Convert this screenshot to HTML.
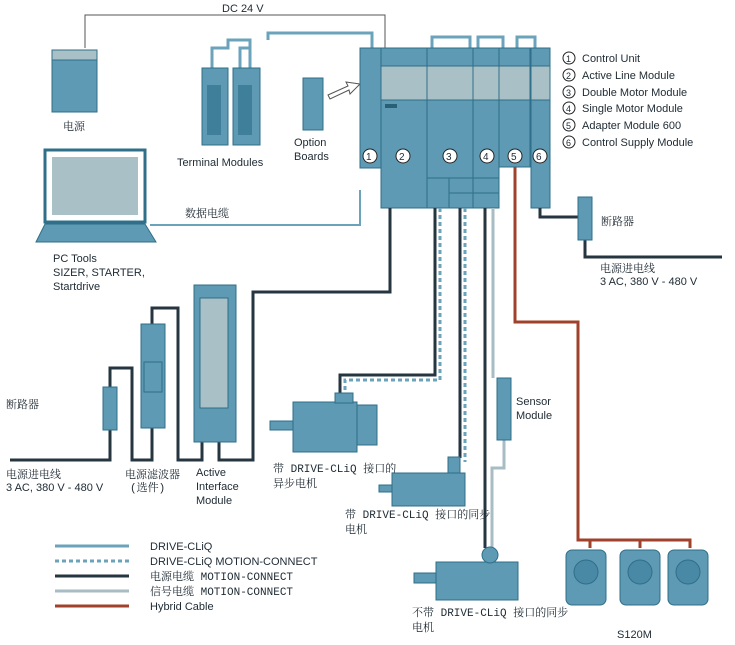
<!DOCTYPE html>
<html><head><meta charset="utf-8"><style>
body{margin:0;background:#fff;width:735px;height:645px;overflow:hidden}
svg{display:block}
text{font-family:"Liberation Sans","Noto Sans CJK SC",sans-serif;font-size:11px;fill:#1e2a33}
.cn{font-family:"Liberation Mono","Noto Serif CJK SC",serif;font-size:11px}
.m{fill:#5e9ab3;stroke:#2f6f8a;stroke-width:1}
.g{fill:#a9c0c7;stroke:#2f6f8a;stroke-width:1}
.k{fill:none;stroke:#263640;stroke-width:3}
.b{fill:none;stroke:#6ba3bb;stroke-width:3}
.d{fill:none;stroke:#6ba3bb;stroke-width:3;stroke-dasharray:4 3}
.l{fill:none;stroke:#a8bcc4;stroke-width:3}
.r{fill:none;stroke:#a0412b;stroke-width:3}
.t{fill:none;stroke:#555;stroke-width:1}
.c{fill:#fff;stroke:#222;stroke-width:1}
</style></head><body>
<svg width="735" height="645" viewBox="0 0 735 645">
<polyline class="t" points="85,48 85,15 385,15 385,48"/>
<text x="222" y="12">DC 24 V</text>
<polyline class="b" points="212,68 212,48 228,48 228,40 250,40 250,68"/>
<polyline class="b" points="240,68 240,48 250,48"/>
<polyline class="b" points="268,40 268,33 372,33 372,48"/>
<polyline class="b" points="432,48 432,37 470,37 470,48"/>
<polyline class="b" points="478,48 478,37 503,37 503,48"/>
<polyline class="b" points="517,48 517,37 535,37 535,48"/>
<rect class="m" x="52" y="50" width="45" height="62"/>
<rect class="g" x="52" y="50" width="45" height="10"/>
<text x="63" y="130" class="cn">电源</text>
<rect class="m" x="202" y="68" width="26" height="77"/>
<rect class="m" x="233" y="68" width="27" height="77"/>
<rect x="207" y="85" width="14" height="50" fill="#3f7f99"/>
<rect x="238" y="85" width="14" height="50" fill="#3f7f99"/>
<text x="177" y="166">Terminal Modules</text>
<rect class="m" x="303" y="78" width="20" height="52"/>
<text x="294" y="146">Option</text><text x="294" y="160">Boards</text>
<polygon points="328,95 348,86 346,82 360,84 350,94 349,90 330,99" fill="#fff" stroke="#555"/>
<rect x="45" y="150" width="100" height="72" fill="#fff" stroke="#2f6f8a" stroke-width="3"/>
<rect x="52" y="157" width="86" height="58" fill="#a9c0c7"/>
<polygon points="45,224 145,224 156,242 36,242" class="m"/>
<text x="53" y="262">PC Tools</text><text x="53" y="276">SIZER, STARTER,</text><text x="53" y="290">Startdrive</text>
<polyline class="b" points="150,225 360,225 360,190" style="stroke-width:2"/>
<text x="185" y="217" class="cn">数据电缆</text>
<rect class="m" x="360" y="48" width="21" height="120"/>
<rect class="m" x="381" y="48" width="46" height="160"/>
<rect class="m" x="427" y="48" width="46" height="160"/>
<rect class="m" x="473" y="48" width="26" height="160"/>
<rect class="m" x="499" y="48" width="31" height="119"/>
<rect class="m" x="531" y="48" width="19" height="160"/>
<rect class="g" x="381" y="66" width="46" height="34"/>
<rect class="g" x="427" y="66" width="46" height="34"/>
<rect class="g" x="473" y="66" width="26" height="34"/>
<rect class="g" x="499" y="66" width="31" height="34"/>
<rect class="g" x="531" y="66" width="19" height="34"/>
<rect class="m" x="427" y="178" width="22" height="30"/>
<rect class="m" x="449" y="178" width="24" height="15"/>
<rect class="m" x="449" y="193" width="24" height="15"/>
<rect class="m" x="473" y="178" width="26" height="15"/>
<rect class="m" x="473" y="193" width="26" height="15"/>
<rect x="385" y="104" width="12" height="4" fill="#2a5f76"/>
<circle class="c" cx="370" cy="156" r="7"/><text x="366" y="160" style="font-size:10px">1</text>
<circle class="c" cx="403" cy="156" r="7"/><text x="399" y="160" style="font-size:10px">2</text>
<circle class="c" cx="450" cy="156" r="7"/><text x="446" y="160" style="font-size:10px">3</text>
<circle class="c" cx="487" cy="156" r="7"/><text x="483" y="160" style="font-size:10px">4</text>
<circle class="c" cx="515" cy="156" r="7"/><text x="511" y="160" style="font-size:10px">5</text>
<circle class="c" cx="540" cy="156" r="7"/><text x="536" y="160" style="font-size:10px">6</text>
<circle class="c" cx="569" cy="58" r="6"/><text x="566" y="62" style="font-size:9px">1</text><text x="582" y="62">Control Unit</text>
<circle class="c" cx="569" cy="75" r="6"/><text x="566" y="79" style="font-size:9px">2</text><text x="582" y="79">Active Line Module</text>
<circle class="c" cx="569" cy="92" r="6"/><text x="566" y="96" style="font-size:9px">3</text><text x="582" y="96">Double Motor Module</text>
<circle class="c" cx="569" cy="108" r="6"/><text x="566" y="112" style="font-size:9px">4</text><text x="582" y="112">Single Motor Module</text>
<circle class="c" cx="569" cy="125" r="6"/><text x="566" y="129" style="font-size:9px">5</text><text x="582" y="129">Adapter Module 600</text>
<circle class="c" cx="569" cy="142" r="6"/><text x="566" y="146" style="font-size:9px">6</text><text x="582" y="146">Control Supply Module</text>
<polyline class="k" points="540,208 540,217 580,217"/>
<polyline class="k" points="585,240 585,257 722,257"/>
<rect class="m" x="578" y="197" width="14" height="43"/>
<text x="601" y="225" class="cn">断路器</text>
<text x="600" y="272" class="cn">电源进电线</text><text x="600" y="285">3 AC, 380 V - 480 V</text>
<!-- left power chain -->
<polyline class="k" points="390,208 390,292 253,292 253,460 219,460 219,442"/>
<polyline class="k" points="10,460 110,460 110,368 132,368 132,460 152,460 152,428"/>
<polyline class="k" points="152,324 152,308 178,308 178,460 202,460 202,442"/>
<rect class="m" x="103" y="387" width="14" height="43"/>
<rect class="m" x="141" y="324" width="24" height="104"/>
<rect x="144" y="362" width="18" height="30" fill="none" stroke="#2f6f8a"/>
<rect class="m" x="194" y="285" width="42" height="157"/>
<rect class="g" x="200" y="298" width="28" height="110"/>
<text x="6" y="408" class="cn">断路器</text>
<text x="6" y="478" class="cn">电源进电线</text><text x="6" y="491">3 AC, 380 V - 480 V</text>
<text x="125" y="478" class="cn">电源滤波器</text><text x="130" y="491" class="cn">(选件)</text>
<text x="196" y="476">Active</text><text x="196" y="490">Interface</text><text x="196" y="504">Module</text>
<polyline class="k" points="435,208 435,375 340,375 340,393"/>
<polyline class="d" points="440,208 440,380 345,380 345,393"/>
<polyline class="k" points="460,208 460,458"/>
<polyline class="d" points="465,208 465,462"/>
<polyline class="k" points="485,208 485,548"/>
<polyline class="l" points="493,208 493,378"/>
<polyline class="l" points="504,440 504,468 492,468 492,548"/>
<polyline class="r" points="515,167 515,322 578,322 578,540 690,540 690,548"/>
<rect class="m" x="497" y="378" width="14" height="62"/>
<text x="516" y="405">Sensor</text><text x="516" y="419">Module</text>
<rect class="m" x="270" y="421" width="23" height="9"/>
<rect class="m" x="293" y="402" width="64" height="50"/>
<rect class="m" x="357" y="405" width="20" height="40"/>
<rect class="m" x="335" y="393" width="18" height="10"/>
<text x="273" y="472" class="cn">带 DRIVE-CLiQ 接口的</text><text x="273" y="487" class="cn">异步电机</text>
<rect class="m" x="379" y="485" width="13" height="7"/>
<rect class="m" x="392" y="473" width="73" height="33"/>
<rect class="m" x="448" y="457" width="12" height="16"/>
<text x="345" y="518" class="cn">带 DRIVE-CLiQ 接口的同步</text><text x="345" y="533" class="cn">电机</text>
<rect class="m" x="414" y="573" width="22" height="10"/>
<rect class="m" x="436" y="562" width="82" height="38"/>
<circle class="m" cx="490" cy="555" r="8"/>
<text x="412" y="616" class="cn">不带 DRIVE-CLiQ 接口的同步</text><text x="412" y="631" class="cn">电机</text>
<rect class="m" x="566" y="550" width="40" height="55" rx="6"/><circle cx="586" cy="572" r="12" fill="#4a89a5" stroke="#2f6f8a"/>
<rect class="m" x="620" y="550" width="40" height="55" rx="6"/><circle cx="640" cy="572" r="12" fill="#4a89a5" stroke="#2f6f8a"/>
<rect class="m" x="668" y="550" width="40" height="55" rx="6"/><circle cx="688" cy="572" r="12" fill="#4a89a5" stroke="#2f6f8a"/>
<polyline class="r" points="590,548 590,540 640,540 640,548"/>
<text x="617" y="638">S120M</text>
<line class="b" x1="55" y1="546" x2="129" y2="546"/>
<line class="d" x1="55" y1="561" x2="129" y2="561"/>
<line class="k" x1="55" y1="576" x2="129" y2="576"/>
<line class="l" x1="55" y1="591" x2="129" y2="591"/>
<line class="r" x1="55" y1="606" x2="129" y2="606"/>
<text x="150" y="550">DRIVE-CLiQ</text>
<text x="150" y="565">DRIVE-CLiQ MOTION-CONNECT</text>
<text x="150" y="580" class="cn">电源电缆 MOTION-CONNECT</text>
<text x="150" y="595" class="cn">信号电缆 MOTION-CONNECT</text>
<text x="150" y="610">Hybrid Cable</text>
</svg>
</body></html>
